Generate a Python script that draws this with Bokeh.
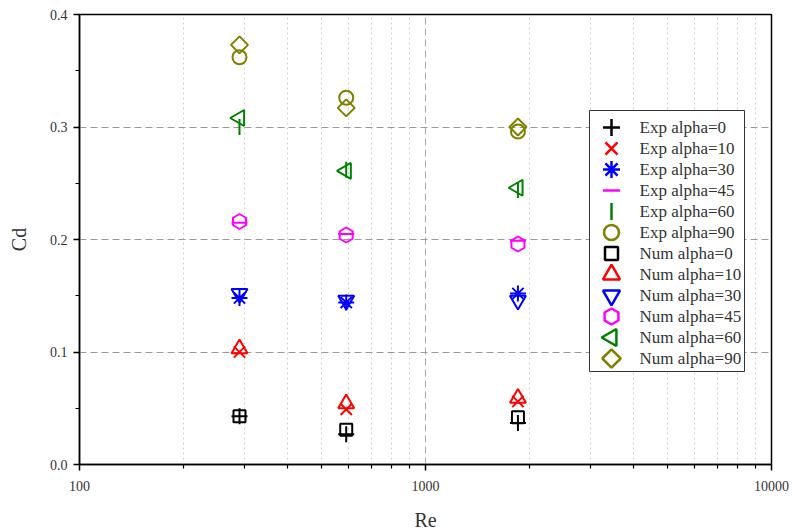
import math
from bokeh.plotting import figure
from bokeh.models import (FixedTicker, NumeralTickFormatter, PrintfTickFormatter,
                          Range1d, LinearScale, ColumnDataSource)
from bokeh.embed import file_html
from bokeh.resources import INLINE

# Data
re_vals = [290, 590, 1850]
exp_0 = [0.043, 0.027, 0.037]
exp_10 = [0.100, 0.049, 0.056]
exp_30 = [0.148, 0.144, 0.152]
exp_45 = [0.215, 0.205, 0.199]
exp_60 = [0.300, 0.262, 0.244]
exp_90 = [0.362, 0.326, 0.296]
num_0 = [0.043, 0.031, 0.042]
num_10 = [0.103, 0.054, 0.059]
num_30 = [0.152, 0.146, 0.146]
num_45 = [0.216, 0.204, 0.196]
num_60 = [0.308, 0.261, 0.246]
num_90 = [0.373, 0.317, 0.300]

x_ticks = [100, 1000, 10000]
x_minor = [200, 300, 400, 500, 600, 700, 800, 900, 2000, 3000, 4000, 5000, 6000, 7000, 8000, 9000]
y_ticks = [0.0, 0.1, 0.2, 0.3, 0.4]
y_minor = [0.05, 0.15, 0.25, 0.35]

FONT = "Liberation Serif"
FW, FH = 692, 450

p = figure(frame_width=FW, frame_height=FH, x_axis_type="log", x_range=(100, 10000), y_range=(0, 0.4),
           output_backend="svg", toolbar_location=None,
           x_axis_label="Re", y_axis_label="Cd")
p.min_border_left = 79
p.min_border_right = 18
p.min_border_top = 14
p.min_border_bottom = 60
p.outline_line_color = "black"
p.outline_line_width = 1.5
p.background_fill_color = "white"
p.border_fill_color = "white"

p.xaxis.ticker = FixedTicker(ticks=x_ticks, minor_ticks=x_minor)
p.yaxis.ticker = FixedTicker(ticks=y_ticks, minor_ticks=y_minor)
p.xaxis.formatter = PrintfTickFormatter(format="%d")
p.yaxis.formatter = NumeralTickFormatter(format="0.0")

for ax in (p.xaxis, p.yaxis):
    ax.axis_line_color = "black"
    ax.axis_line_width = 1.5
    ax.major_tick_line_color = "black"
    ax.major_tick_line_width = 1.5
    ax.minor_tick_line_color = "black"
    ax.minor_tick_line_width = 1.2
    ax.major_tick_out = 6
    ax.major_tick_in = 0
    ax.minor_tick_out = 4
    ax.minor_tick_in = 0
    ax.major_label_text_font = FONT
    ax.major_label_text_font_size = "14px"
    ax.major_label_text_color = "#333333"
    ax.axis_label_text_font = FONT
    ax.axis_label_text_font_size = "20px"
    ax.axis_label_text_font_style = "normal"
    ax.axis_label_text_color = "#333333"

p.xaxis.axis_label_standoff = 15
p.xaxis.major_label_standoff = 10
p.yaxis.axis_label_standoff = 17
p.yaxis.major_label_standoff = 6

p.xgrid.grid_line_color = "#aaaaaa"
p.xgrid.grid_line_dash = "7 4"
p.xgrid.grid_line_width = 1
p.xgrid.minor_grid_line_color = "#d0d0d0"
p.xgrid.minor_grid_line_dash = "2 3"
p.xgrid.minor_grid_line_width = 1
p.ygrid.grid_line_color = "#999999"
p.ygrid.grid_line_dash = "7 4"
p.ygrid.grid_line_width = 1

LW = 2

series = [
    ("Exp alpha=0", exp_0, "cross", "black", 0, 16),
    ("Exp alpha=10", exp_10, "x", "red", 0, 16),
    ("Exp alpha=30", exp_30, "asterisk", "blue", 0, 16),
    ("Exp alpha=45", exp_45, "dash", "magenta", 0, 16),
    ("Exp alpha=60", exp_60, "dash", "green", math.pi / 2, 16),
    ("Exp alpha=90", exp_90, "circle", "olive", 0, 14),
    ("Num alpha=0", num_0, "square", "black", 0, 12),
    ("Num alpha=10", num_10, "triangle", "red", 0, 16),
    ("Num alpha=30", num_30, "inverted_triangle", "blue", 0, 16),
    ("Num alpha=45", num_45, "hex", "magenta", math.pi / 2, 15),
    ("Num alpha=60", num_60, "triangle", "green", math.pi / 2, 16),
    ("Num alpha=90", num_90, "square", "olive", math.pi / 4, 12),
]

for label, ys, marker, color, ang, size in series:
    p.scatter(re_vals, ys, marker=marker, size=size, angle=ang,
              line_color=color, fill_color=None, line_width=LW)

# Legend drawn in a pixel-based helper range (layout only)
p.extra_x_ranges = {"px": Range1d(0, FW)}
p.extra_y_ranges = {"py": Range1d(0, FH)}
p.extra_x_scales = {"px": LinearScale()}
p.extra_y_scales = {"py": LinearScale()}

LEG_LEFT, LEG_RIGHT, LEG_TOP, LEG_BOTTOM = 510, 665, 354, 93
ROW0, ROW_STEP = 337, 21
GLYPH_X, LABEL_X = 532, 560

p.quad(left=[LEG_LEFT], right=[LEG_RIGHT], top=[LEG_TOP], bottom=[LEG_BOTTOM],
       x_range_name="px", y_range_name="py",
       fill_color="white", line_color="#333333", line_width=1)

n = len(series)
rows = [ROW0 - i * ROW_STEP for i in range(n)]
leg_src = ColumnDataSource(dict(
    x=[GLYPH_X] * n, lx=[LABEL_X] * n, y=rows,
    marker=[s[2] for s in series], color=[s[3] for s in series],
    angle=[s[4] for s in series], size=[s[5] + 1 for s in series],
    label=[s[0] for s in series]))
p.scatter("x", "y", source=leg_src, marker="marker", size="size", angle="angle",
          line_color="color", fill_color=None, line_width=2.5,
          x_range_name="px", y_range_name="py")
p.text("lx", "y", text="label", source=leg_src, x_range_name="px", y_range_name="py",
       text_font=FONT, text_font_size="17px", text_color="#333333",
       text_baseline="middle", text_align="left")

open("out.html", "w").write(file_html(p, INLINE))
